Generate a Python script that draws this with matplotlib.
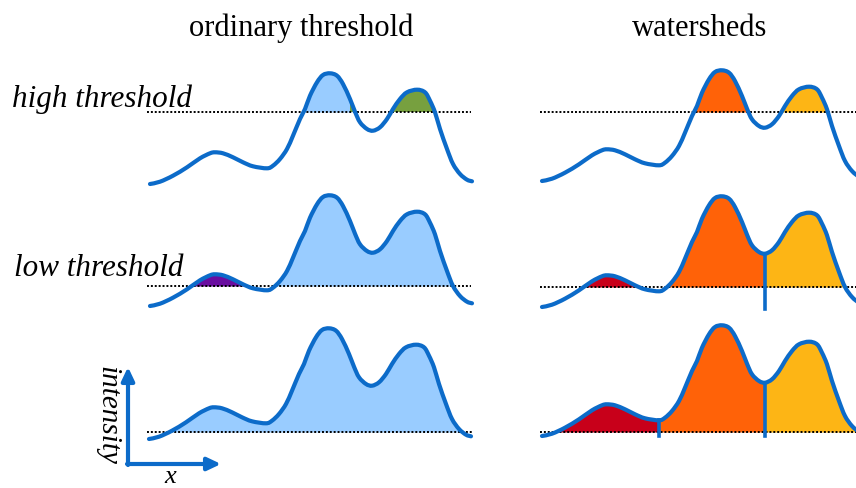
import numpy as np
import matplotlib
matplotlib.use("Agg")
import matplotlib.pyplot as plt
from matplotlib.path import Path
from matplotlib.patches import PathPatch

# intensity profile: x offset (px) and height above start (px)
profile_dx = [0, 10, 23, 37, 50, 60, 65, 73, 83, 93, 103, 117, 123, 130, 137, 143,
              150, 155, 160, 167, 173, 180, 187, 193, 200, 205, 210, 217, 223, 230,
              237, 243, 250, 257, 267, 275, 280, 285, 290, 297, 303, 310, 317, 322]
profile_h = [0, 2.3, 8.3, 16.7, 25.7, 30.7, 31.7, 30.7, 26.7, 21.7, 17.7, 15.7, 18.3,
             25, 35, 48.3, 65, 75, 88.3, 101.7, 109, 110.7, 108.3, 100, 85, 72.3, 61.7,
             55, 53.3, 56.7, 65, 75, 85, 91.7, 94.3, 91.7, 83.3, 71.7, 55, 35, 20, 10,
             4.3, 2.7]

titles = ["ordinary threshold", "watersheds"]
row_labels = ["high threshold", "low threshold"]

# watershed borders (x offsets of the troughs)
ridge_dx = [117, 223]

curve_col = "#0C6BC9"
light_blue = "#99CCFF"
green = "#77A03F"
purple = "#6A0DA0"
red = "#C8001A"
orange = "#FF6208"
yellow = "#FDB515"

dx = np.array(profile_dx, dtype=float)
h = np.array(profile_h, dtype=float)

fig = plt.figure(figsize=(8.56, 4.89), dpi=100)
ax = fig.add_axes([0, 0, 1, 1])
ax.set_xlim(0, 856)
ax.set_ylim(489, 0)
ax.axis("off")

# panel placement: (x0, y0 of curve start, threshold y, threshold line start, end)
panels = {
    ("L", 0): (150, 185, 113, 147, 471),
    ("L", 1): (150, 307, 287, 147, 471),
    ("L", 2): (149, 440, 433, 147, 472),
    ("R", 0): (542, 182, 113, 540, 856),
    ("R", 1): (542, 308, 288, 540, 856),
    ("R", 2): (542, 437, 433, 540, 856),
}


def smooth_path(x, y):
    # catmull-rom through the read points, drawn as cubic bezier segments
    pts = np.column_stack([x, y])
    verts = [pts[0]]
    codes = [Path.MOVETO]
    n = len(pts)
    for i in range(n - 1):
        p0 = pts[max(i - 1, 0)]
        p1 = pts[i]
        p2 = pts[i + 1]
        p3 = pts[min(i + 2, n - 1)]
        verts += [p1 + (p2 - p0) / 6, p2 - (p3 - p1) / 6, p2]
        codes += [Path.CURVE4] * 3
    return Path(verts, codes)


def draw_panel(key, fills, ridges=(), ridge_bottom=None):
    x0, y0, thr, lx0, lx1 = panels[key]
    x = x0 + dx
    y = y0 - h
    above = y < thr
    for lo, hi, col in fills:
        m = above & (dx >= lo) & (dx <= hi)
        ax.fill_between(x, y, thr, where=m, interpolate=True, color=col,
                        lw=0, zorder=1)
    ax.plot([lx0, lx1], [thr, thr], color="black", lw=1.4,
            linestyle=(0, (1, 1)), zorder=2)
    for r in ridges:
        i = profile_dx.index(r)
        ax.plot([x[i], x[i]], [y[i], ridge_bottom], color=curve_col, lw=2.6,
                zorder=3)
    ax.add_patch(PathPatch(smooth_path(x, y), fill=False, edgecolor=curve_col,
                           lw=3, capstyle="round", zorder=4))


# ordinary threshold
draw_panel(("L", 0), [(0, 200, light_blue), (200, 400, green)])
draw_panel(("L", 1), [(0, 117, purple), (117, 400, light_blue)])
draw_panel(("L", 2), [(0, 400, light_blue)])

# watersheds
draw_panel(("R", 0), [(0, 223, orange), (223, 400, yellow)])
draw_panel(("R", 1), [(0, 117, red), (117, 223, orange), (223, 400, yellow)],
           ridges=[ridge_dx[1]], ridge_bottom=310)
draw_panel(("R", 2), [(0, 117, red), (117, 223, orange), (223, 400, yellow)],
           ridges=ridge_dx, ridge_bottom=437)

serif = "Liberation Serif"
ax.text(301, 28, titles[0], fontsize=22, family=serif, ha="center", va="center")
ax.text(700, 28, titles[1], fontsize=22, family=serif, ha="center", va="center")
ax.text(12, 99, row_labels[0], fontsize=22.4, family=serif, style="italic",
        ha="left", va="center", zorder=5)
ax.text(14, 269, row_labels[1], fontsize=22.4, family=serif, style="italic",
        ha="left", va="center", zorder=5)

# axis arrows
arrow = dict(arrowstyle="-|>,head_length=0.8,head_width=0.38", color=curve_col,
             lw=3, shrinkA=0, shrinkB=0)
ax.annotate("", xy=(128, 368), xytext=(128, 466), arrowprops=arrow)
ax.annotate("", xy=(221, 465), xytext=(127, 465), arrowprops=arrow)
ax.text(107, 415, "intensity", fontsize=21, family=serif, style="italic",
        rotation=-90, ha="center", va="center")
ax.text(170, 477, "x", fontsize=19, family=serif, style="italic",
        ha="center", va="center")

fig.savefig("out.png", dpi=100)
